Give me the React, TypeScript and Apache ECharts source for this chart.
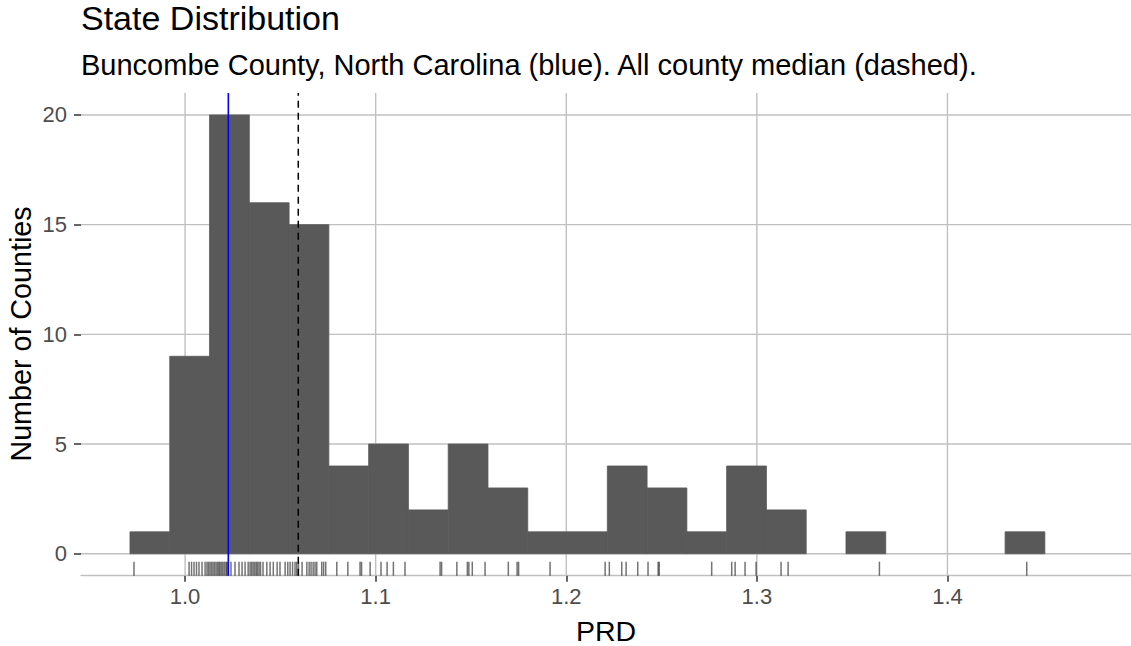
import React, { useEffect, useRef } from "react";
import * as echarts from "echarts";

// ---- data ----
const binStart = 0.9711;
const binWidth = 0.02087;
const binCounts = [1, 9, 20, 16, 15, 4, 5, 2, 5, 3, 1, 1, 4, 3, 1, 4, 2, 0, 1, 0, 0, 0, 1];

const rugValues = [
  0.9732,
  1.0021, 1.0034, 1.0047, 1.006, 1.0073, 1.0089, 1.0105, 1.0115, 1.0123,
  1.0131, 1.0139, 1.0147, 1.0155, 1.0163, 1.0171, 1.0178, 1.0184, 1.0192, 1.0199,
  1.0207, 1.0215, 1.022, 1.0227, 1.0241, 1.0262, 1.0283, 1.0299, 1.0315, 1.0331,
  1.0341, 1.0349, 1.0357, 1.0365, 1.0373, 1.038, 1.0388, 1.0396, 1.0409, 1.0429,
  1.0446, 1.0463, 1.0483, 1.0498, 1.0525, 1.0539,
  1.0551, 1.0564, 1.0577, 1.0586, 1.0595, 1.0614, 1.0639, 1.0651, 1.0661, 1.0672,
  1.0682, 1.0691, 1.0717, 1.0727, 1.0738,
  1.0796, 1.0854, 1.0918, 1.0926,
  1.0971, 1.1028, 1.106, 1.1093, 1.1154,
  1.1338, 1.1346,
  1.1426, 1.1481, 1.1489, 1.1507, 1.1574,
  1.1696, 1.1742, 1.175,
  1.1915,
  1.2204,
  1.2226, 1.2291, 1.2314, 1.2375,
  1.2429, 1.2482, 1.2488,
  1.2763,
  1.2868, 1.2886, 1.2938, 1.2996,
  1.3127, 1.3164,
  1.3643,
  1.4416,
];

const countyValue = 1.0227; // Buncombe County (blue)
const medianValue = 1.0594; // all county median (dashed)

const xTicks = [1.0, 1.1, 1.2, 1.3, 1.4];
const yTicks = [0, 5, 10, 15, 20];

const xMin = 0.9454;
const xMax = 1.4963;
const yMin = -1;
const yMax = 21;

const FONT = "'Liberation Sans', Arial, Helvetica, sans-serif";
const GRID_COLOR = "#c0c0c0";

export default function App() {
  const ref = useRef<HTMLDivElement>(null);

  useEffect(() => {
    if (!ref.current) return;
    const chart = echarts.init(ref.current, null, { renderer: "svg" });

    const bars = binCounts
      .map((c, i) => [binStart + i * binWidth, binStart + (i + 1) * binWidth, c])
      .filter((d) => d[2] > 0);

    const option: any = {
      animation: false,
      backgroundColor: "#ffffff",
      grid: { left: 81, right: 0, top: 93, bottom: 70.3 },
      xAxis: {
        type: "value",
        min: xMin,
        max: xMax,
        axisLine: { show: true, onZero: false, lineStyle: { color: GRID_COLOR, width: 1.4 } },
        axisTick: { show: true, customValues: xTicks, length: 6, lineStyle: { color: "#333333", width: 1.5 } },
        axisLabel: {
          customValues: xTicks,
          formatter: (v: number) => v.toFixed(1),
          color: "#4d4d4d",
          fontSize: 22,
          fontFamily: FONT,
          margin: 10,
        },
        splitLine: { show: false },
      },
      yAxis: {
        type: "value",
        min: yMin,
        max: yMax,
        axisLine: { show: false },
        axisTick: { show: true, customValues: yTicks, length: 7, lineStyle: { color: "#333333", width: 1.5 } },
        axisLabel: {
          customValues: yTicks,
          color: "#4d4d4d",
          fontSize: 22,
          fontFamily: FONT,
          margin: 14,
        },
        splitLine: { show: false },
      },
      graphic: [
        {
          type: "text",
          x: 81,
          y: 18,
          style: {
            text: "State Distribution",
            fontSize: 34,
            fontFamily: FONT,
            fill: "#000000",
            align: "left",
            verticalAlign: "middle",
            textAlign: "left",
            textVerticalAlign: "middle",
          },
        },
        {
          type: "text",
          x: 81,
          y: 65,
          style: {
            text: "Buncombe County, North Carolina (blue). All county median (dashed).",
            fontSize: 29,
            fontFamily: FONT,
            fill: "#000000",
            align: "left",
            verticalAlign: "middle",
            textAlign: "left",
            textVerticalAlign: "middle",
          },
        },
        {
          type: "text",
          x: 606,
          y: 631,
          style: {
            text: "PRD",
            fontSize: 28.5,
            fontFamily: FONT,
            fill: "#000000",
            align: "center",
            verticalAlign: "middle",
            textAlign: "center",
            textVerticalAlign: "middle",
          },
        },
        {
          type: "text",
          x: 21,
          y: 334,
          rotation: Math.PI / 2,
          style: {
            text: "Number of Counties",
            fontSize: 28.7,
            fontFamily: FONT,
            fill: "#000000",
            align: "center",
            verticalAlign: "middle",
            textAlign: "center",
            textVerticalAlign: "middle",
          },
        },
      ],
      series: [
        {
          type: "custom",
          name: "vgrid",
          z: 1,
          silent: true,
          data: xTicks.map((v) => [v, 0]),
          encode: { x: 0, y: 1 },
          renderItem: (_p: any, api: any) => {
            const a = api.coord([api.value(0), yMin]);
            const b = api.coord([api.value(0), yMax]);
            return {
              type: "line",
              shape: { x1: a[0], y1: a[1], x2: b[0], y2: b[1] },
              style: { stroke: GRID_COLOR, lineWidth: 1.4 },
            };
          },
        },
        {
          type: "custom",
          name: "hgrid",
          z: 1,
          silent: true,
          data: yTicks.map((v) => [xMin, v]),
          encode: { x: 0, y: 1 },
          renderItem: (_p: any, api: any) => {
            const a = api.coord([xMin, api.value(1)]);
            const b = api.coord([xMax, api.value(1)]);
            return {
              type: "line",
              shape: { x1: a[0], y1: a[1], x2: b[0], y2: b[1] },
              style: { stroke: GRID_COLOR, lineWidth: 1.4 },
            };
          },
        },
        {
          type: "custom",
          name: "histogram",
          z: 2,
          silent: true,
          data: bars,
          encode: { x: [0, 1], y: 2 },
          renderItem: (_p: any, api: any) => {
            const p0 = api.coord([api.value(0), 0]);
            const p1 = api.coord([api.value(1), api.value(2)]);
            return {
              type: "rect",
              shape: { x: p0[0], y: p1[1], width: p1[0] - p0[0], height: p0[1] - p1[1] },
              style: { fill: "#595959", stroke: "#595959", lineWidth: 0.8 },
            };
          },
        },
        {
          type: "custom",
          name: "rug",
          z: 3,
          silent: true,
          data: rugValues.map((v) => [v, yMin]),
          encode: { x: 0, y: 1 },
          renderItem: (_p: any, api: any) => {
            const p = api.coord([api.value(0), yMin]);
            return {
              type: "line",
              shape: { x1: p[0], y1: p[1], x2: p[0], y2: p[1] - 14 },
              style: { stroke: "rgba(0,0,0,0.55)", lineWidth: 1.5 },
            };
          },
        },
        {
          type: "custom",
          name: "refLines",
          z: 4,
          silent: true,
          data: [
            [countyValue, 0, 0],
            [medianValue, 0, 1],
          ],
          encode: { x: 0, y: 1 },
          renderItem: (_p: any, api: any) => {
            const a = api.coord([api.value(0), yMin]);
            const b = api.coord([api.value(0), yMax]);
            const dashed = api.value(2) === 1;
            return {
              type: "line",
              shape: { x1: a[0], y1: a[1], x2: b[0], y2: b[1] },
              style: dashed
                ? { stroke: "#000000", lineWidth: 1.5, lineDash: [7, 5] }
                : { stroke: "#0000ff", lineWidth: 1.6 },
            };
          },
        },
      ],
    };

    chart.setOption(option);
    return () => chart.dispose();
  }, []);

  return (
    <div
      ref={ref}
      style={{ position: "fixed", left: 0, top: 0, width: 1131, height: 646, background: "#fff" }}
    />
  );
}
